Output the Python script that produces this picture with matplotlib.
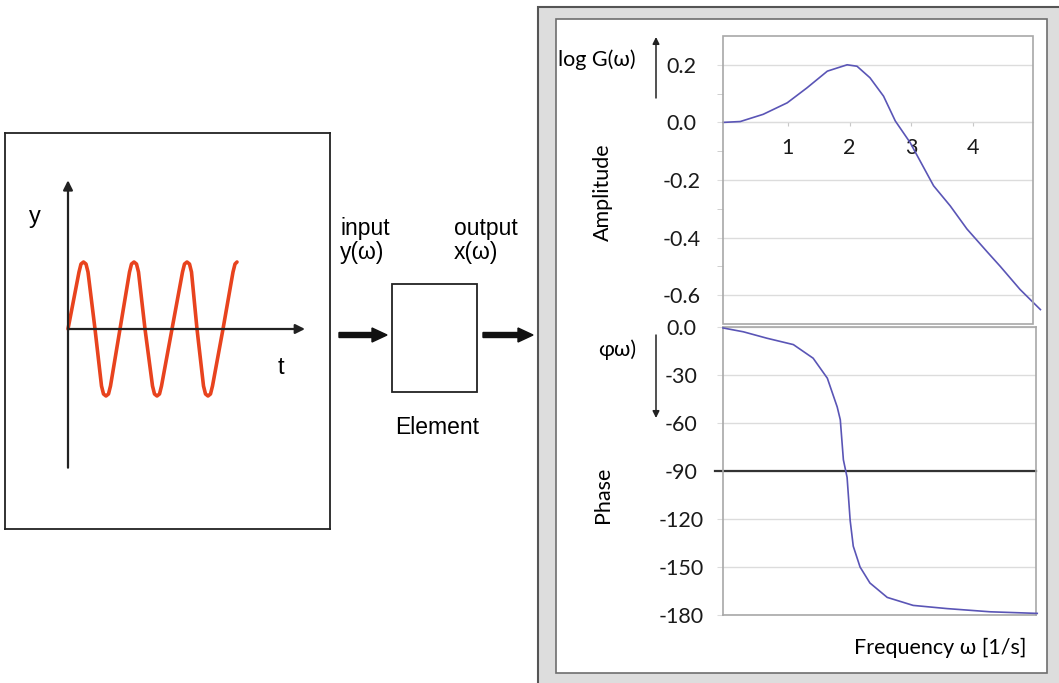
import matplotlib.pyplot as plt
from matplotlib.patches import Rectangle, FancyArrow

W, H = 1059, 683

# input signal sketch (t in sketch units, y normalised to amplitude 1)
wave_t = [0, 11, 13, 15.5, 18, 20, 27, 33.5, 35.5, 38, 40.5, 42.5, 52,
          61.5, 63.5, 66, 68.5, 70.5, 77, 84.5, 86.5, 89, 91.5, 93.5, 104,
          114.5, 116.5, 119, 121.5, 123.5, 129, 135.5, 137.5, 140, 142.5, 144.5,
          155, 165, 167, 169]
wave_y = [0, 0.85, 0.97, 1.0, 0.97, 0.85, 0, -0.85, -0.97, -1.0, -0.97, -0.85, 0,
          0.85, 0.97, 1.0, 0.97, 0.85, 0, -0.85, -0.97, -1.0, -0.97, -0.85, 0,
          0.85, 0.97, 1.0, 0.97, 0.85, 0, -0.85, -0.97, -1.0, -0.97, -0.85,
          0, 0.85, 0.97, 1.0]

# frequency response
freq_amp = [-0.05, 0.23, 0.6, 0.99, 1.31, 1.64, 1.96, 2.12, 2.33, 2.55, 2.74,
            2.98, 3.36, 3.63, 3.9, 4.23, 4.44, 4.76, 5.09]
amp = [0.0, 0.003, 0.028, 0.068, 0.12, 0.178, 0.2, 0.195, 0.155, 0.091, 0.005,
       -0.07, -0.22, -0.29, -0.37, -0.45, -0.5, -0.58, -0.65]

freq_phase = [-0.05, 0.28, 0.66, 1.09, 1.41, 1.64, 1.8, 1.85, 1.9, 1.96, 2.01,
              2.06, 2.17, 2.33, 2.61, 3.03, 3.58, 4.28, 5.04]
phase = [-0.6, -3, -7, -11, -19.5, -32, -50, -58, -83, -94, -121, -137, -150,
         -160, -169, -174, -176, -178, -179]

amp_ticks = [-0.6, -0.4, -0.2, 0.0, 0.2]
amp_labels = ['-0.6', '-0.4', '-0.2', '0.0', '0.2']
amp_minor = [-0.5, -0.3, -0.1, 0.1]
freq_ticks = [1, 2, 3, 4]
phase_ticks = [0, -30, -60, -90, -120, -150, -180]
phase_labels = ['0.0', '-30', '-60', '-90', '-120', '-150', '-180']

plt.rcParams['font.family'] = ['Lato', 'DejaVu Sans']
ARIAL = ['Liberation Sans', 'DejaVu Sans']
CURVE = '#5a55b6'
GRID = '#dcdcdc'
FRAME = '#a8a8a8'
FS = 15.5


def px_rect(x0, y0, x1, y1):
    return [x0 / W, 1 - y1 / H, (x1 - x0) / W, (y1 - y0) / H]


fig = plt.figure(figsize=(W / 100, H / 100), dpi=100)

# background layer in pixel coordinates
bg = fig.add_axes([0, 0, 1, 1], zorder=-1)
bg.set_xlim(0, W)
bg.set_ylim(H, 0)
bg.axis('off')

# --- left: input signal ---
ax0 = fig.add_axes(px_rect(5, 133, 330, 529))
ax0.set_xlim(-63, 262)
ax0.set_ylim(-200 / 67, 196 / 67)
ax0.set_xticks([])
ax0.set_yticks([])
for s in ax0.spines.values():
    s.set_color('#222222')
    s.set_linewidth(1.3)
ax0.plot(wave_t, wave_y, color='#e8431e', lw=2.6,
         solid_capstyle='round', solid_joinstyle='round')
arr = dict(arrowstyle='-|>', color='#222222', lw=1.6, mutation_scale=14,
           shrinkA=0, shrinkB=0)
ax0.annotate('', xy=(0, 2.22), xytext=(0, -2.07), arrowprops=arr)
ax0.annotate('', xy=(237, 0), xytext=(0, 0), arrowprops=arr)
ax0.text(-33, 1.67, 'y', fontsize=17, family=ARIAL, ha='center', va='center')
ax0.text(213, -0.58, 't', fontsize=17, family=ARIAL, ha='center', va='center')

# --- middle: element block ---
bg.add_patch(Rectangle((392, 284), 85, 108, fill=False, ec='#222222', lw=1.3))
bg.add_patch(FancyArrow(339, 335, 48, 0, width=5, head_width=14, head_length=15,
                        length_includes_head=True, color='#111111'))
bg.add_patch(FancyArrow(483, 335, 50, 0, width=5, head_width=14, head_length=15,
                        length_includes_head=True, color='#111111'))
bg.text(340, 229, 'input', fontsize=16.5, family=ARIAL, va='center')
bg.text(340, 253, 'y(ω)', fontsize=16.5, family=ARIAL, va='center')
bg.text(454, 229, 'output', fontsize=16.5, family=ARIAL, va='center')
bg.text(454, 253, 'x(ω)', fontsize=16.5, family=ARIAL, va='center')
bg.text(437, 428, 'Element', fontsize=16.5, family=ARIAL, ha='center', va='center')

# --- right: frequency response panel ---
bg.add_patch(Rectangle((538, 7), 540, 700, fc='#dddddd', ec='#555555', lw=1.5))
bg.add_patch(Rectangle((556, 19), 491, 654, fc='white', ec='#6e6e6e', lw=1.2))

ax1 = fig.add_axes(px_rect(723, 36, 1033, 324))
ax1.set_xlim(-0.05, 4.97)
ax1.set_ylim(-0.7, 0.3)
for s in ax1.spines.values():
    s.set_visible(False)
ax1.spines['bottom'].set_visible(True)
ax1.spines['bottom'].set_position(('data', 0))
ax1.spines['bottom'].set_color(GRID)
ax1.add_patch(Rectangle((0, 0), 1, 1, transform=ax1.transAxes, fill=False,
                        ec=FRAME, lw=1.2, clip_on=False, zorder=4))
ax1.set_yticks(amp_ticks, amp_labels)
ax1.set_yticks(amp_minor, minor=True)
ax1.set_xticks(freq_ticks)
ax1.yaxis.grid(True, color=GRID, lw=1)
ax1.set_axisbelow(True)
ax1.tick_params(axis='y', which='major', length=4, color=GRID, pad=26,
                labelsize=FS, labelcolor='#1a1a1a')
ax1.tick_params(axis='y', which='minor', length=4, color='#c8c8c8')
ax1.tick_params(axis='x', length=3, color='#c8c8c8', pad=8,
                labelsize=FS, labelcolor='#1a1a1a')
for lbl in ax1.get_yticklabels():
    lbl.set_ha('center')
ax1.plot(freq_amp, amp, color=CURVE, lw=1.2, clip_on=False, zorder=3)

ax2 = fig.add_axes(px_rect(723, 327, 1036, 615))
ax2.set_xlim(-0.05, 5.02)
ax2.set_ylim(-180, 0)
for s in ax2.spines.values():
    s.set_color(FRAME)
    s.set_linewidth(1.2)
ax2.set_xticks([])
ax2.set_yticks(phase_ticks, phase_labels)
ax2.yaxis.grid(True, color=GRID, lw=1)
ax2.set_axisbelow(True)
ax2.tick_params(axis='y', length=4, color=GRID, pad=26,
                labelsize=FS, labelcolor='#1a1a1a')
for lbl in ax2.get_yticklabels():
    lbl.set_ha('center')
ax2.axhline(-90, xmin=-0.027, xmax=1, color='#333333', lw=1.6, clip_on=False, zorder=2)
ax2.plot(freq_phase, phase, color=CURVE, lw=1.2, clip_on=False, zorder=3)

bg.text(558, 60, 'log G(ω)', fontsize=FS, ha='left', va='center')
bg.text(603, 192, 'Amplitude', fontsize=FS, rotation=90, ha='center', va='center')
bg.text(617, 350, 'φω)', fontsize=FS, ha='center', va='center')
bg.text(603, 495, 'Phase', fontsize=FS, rotation=90, ha='center', va='center')
bg.text(940, 648, 'Frequency ω [1/s]', fontsize=FS, ha='center', va='center')
thin = dict(arrowstyle='-|>', color='#222222', lw=1.1, mutation_scale=10,
            shrinkA=0, shrinkB=0)
bg.annotate('', xy=(656, 37), xytext=(656, 98), arrowprops=thin)
bg.annotate('', xy=(656, 418), xytext=(656, 335), arrowprops=thin)

fig.savefig('out.png', dpi=100)
